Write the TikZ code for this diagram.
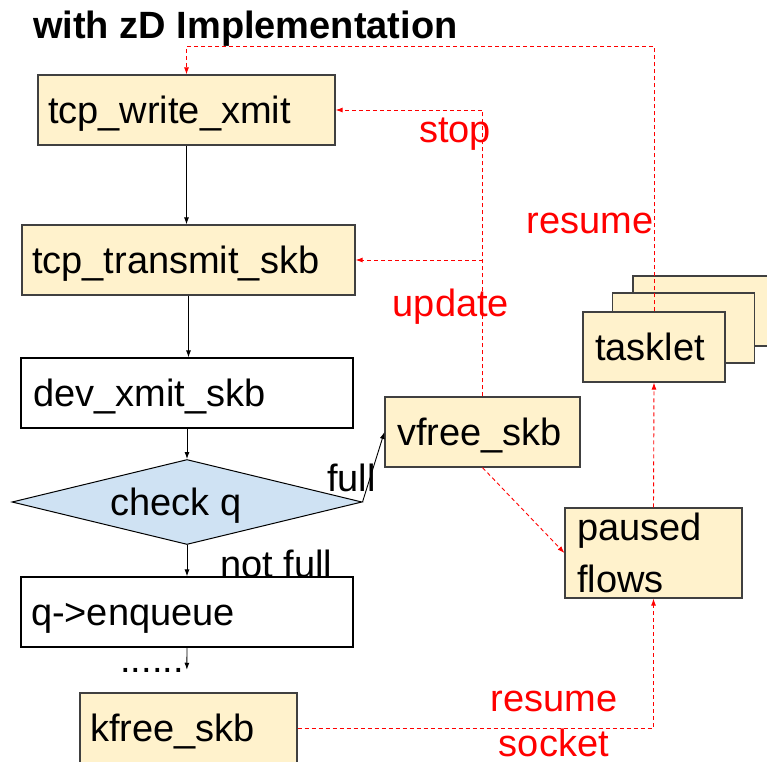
\documentclass[tikz,border=0pt]{standalone}
\usepackage{fontspec}
\setmainfont{Liberation Sans}
\usetikzlibrary{shapes.geometric, arrows.meta}
\definecolor{boxyellow}{HTML}{FFF2CC}
\definecolor{qblue}{HTML}{CFE2F3}
\definecolor{edgegray}{HTML}{404040}

\begin{document}
\begin{tikzpicture}[
        x=1pt, y=-1pt,
        every node/.style={font=\fontsize{38}{52}\selectfont},
        base/.style={rectangle, draw=edgegray, line width=1.2pt, fill=boxyellow, minimum height=70pt, inner xsep=10pt, align=left},
        func/.style={base, text height=34pt, text depth=8pt},
        plain/.style={func, draw=black, fill=white},
        check/.style={diamond, draw=black, line width=1pt, fill=qblue, shape aspect=4, inner sep=0pt, minimum width=350pt, minimum height=85pt, text height=34pt, text depth=8pt},
        lbl/.style={inner sep=0pt},
        redlbl/.style={lbl, text=red},
        arrow/.style={-{Latex[length=7pt, width=5pt]}, line width=0.9pt},
        ctrl/.style={arrow, red, dash pattern=on 4pt off 3pt}
        ]
        \useasboundingbox (0,0) rectangle (767,761);

        \node[lbl, anchor=base west, font=\bfseries\fontsize{38}{44}\selectfont] (title) at (33,38) {with zD Implementation};

        % main path
        \node[func, text width=277pt] (tcp_write) at (186.5,110) {tcp\_write\_xmit};
        \node[func, text width=313pt] (tcp_transmit) at (188.5,260) {tcp\_transmit\_skb};
        \node[plain, text width=308pt, inner xsep=12pt] (dev_xmit) at (187,393) {dev\_xmit\_skb};
        \node[check] (check_q) at (187,502) {check q\hspace*{22pt}};
        \node[plain, text width=312pt] (enqueue) at (187,612) {q->enqueue};
        \node[lbl, anchor=base] (dots) at (152,672) {......};
        \node[func, text width=197pt] (kfree) at (188.5,728) {kfree\_skb};

        % zD side
        \node[func, text width=171pt, inner xsep=12pt] (vfree) at (482.5,432) {vfree\_skb};
        \node[base, text width=153pt, inner xsep=12pt, minimum height=90pt] (paused) at (653.5,553) {paused\\flows};
        \node[func, text width=118pt, inner xsep=12pt] (tasklet_c) at (704,311) {};
        \node[func, text width=118pt, inner xsep=12pt] (tasklet_b) at (683.5,328) {};
        \node[func, text width=118pt, inner xsep=12pt] (tasklet) at (654,347) {tasklet};

        \draw[arrow] (tcp_write.south) -- (tcp_write.south |- tcp_transmit.north);
        \draw[arrow] (tcp_transmit.south) -- (tcp_transmit.south |- dev_xmit.north);
        \draw[arrow] (dev_xmit) -- (check_q);
        \draw[arrow] (check_q) -- node[lbl, anchor=west, xshift=33pt, yshift=-3pt] {not full} (enqueue);
        \draw[arrow] (check_q.east) -- node[lbl, pos=0.35, anchor=east, xshift=6pt] {full} (vfree.west);
        \draw[arrow] (enqueue.south) -- ([xshift=3pt, yshift=-2pt]dots.north east);

        \draw[ctrl] (vfree.north) |- node[redlbl, pos=0.5, anchor=north east, shift={(9pt,-7pt)}] {stop} (tcp_write.east);
        \coordinate (update_pt) at (vfree.north |- tcp_transmit.east);
        \draw[ctrl] (update_pt) -- node[redlbl, pos=0, anchor=north east, shift={(27pt,-29pt)}] {update} (tcp_transmit.east);
        \draw[ctrl] (vfree.south) -- (paused.west);
        \draw[ctrl] (paused.north) -- (tasklet.south);
        \draw[ctrl] (tasklet.north) |- node[redlbl, pos=0.145, anchor=south east] {resume} ([yshift=28pt]tcp_write.north) -- (tcp_write.north);
        \draw[ctrl] (kfree.east) -| node[redlbl, pos=0.36, above=16pt] {resume} node[redlbl, pos=0.36, below=0pt] {socket} (paused.south);

    \end{tikzpicture}
\end{document}
